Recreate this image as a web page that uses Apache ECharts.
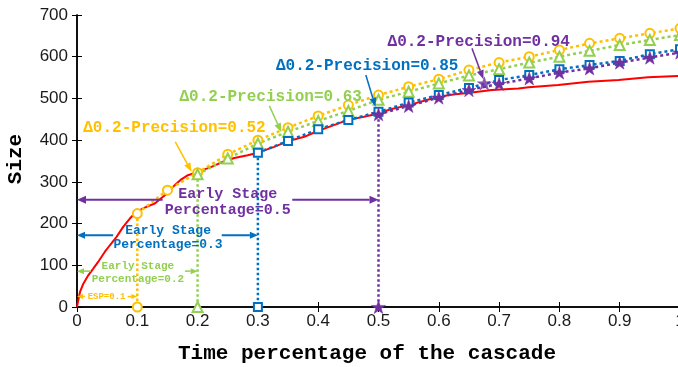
<!DOCTYPE html>
<html><head><meta charset="utf-8">
<script src="https://cdn.jsdelivr.net/npm/echarts@6/dist/echarts.min.js"></script>
<style>html,body{margin:0;padding:0;background:#fff}#c{width:678px;height:367px}</style>
</head><body><div id="c"></div>
<script>
// ---------- data ----------
const tickLabelsX = ['0','0.1','0.2','0.3','0.4','0.5','0.6','0.7','0.8','0.9','1'];
const tickLabelsY = ['0','100','200','300','400','500','600','700'];

const timeSampled = [0.1,0.15,0.2,0.25,0.3,0.35,0.4,0.45,0.5,0.55,0.6,0.65,0.7,0.75,0.8,0.85,0.9,0.95,1.0];
const predESP01 = [224,280,322,366,400,430,458,484,508,528,546,568,586,600,616,632,644,656,668];
const predESP02 = [318,356,392,420,446,470,497,516,536,555,570,586,600,614,628,640,652];
const predESP03 = [370,398,426,448,468,490,508,525,544,556,570,580,590,606,618];
const predESP05 = [462,482,502,520,535,548,562,572,586,598,610];

const actualTime = [0,0.001,0.005,0.0105,0.0187,0.027,0.035,0.046,0.0545,0.0656,0.0766,0.0876,0.0959,0.104,0.115,0.129,0.139,0.151,0.162,0.173,0.184,0.2,0.223,0.245,0.261,0.283,0.3,0.327,0.349,0.377,0.399,0.426,0.448,0.476,0.5,0.52,0.55,0.589,0.617,0.655,0.688,0.732,0.749,0.798,0.848,0.898,0.947,1.0];
const actualSize = [0,8,36,56,76,92,108,132,148,168,192,212,224,232,240,248,260,274,292,306,316,324,336,350,357,364,370,384,397,408,422,436,448,456,464,474,484,500,508,514,520,524,527,532,540,544,551,554];

const espValues = [0.1,0.2,0.3,0.5];
const precisionValues = ['0.52','0.63','0.85','0.94'];
const extraStar = [[0.6755,536]];

// ---------- styles ----------
const C = {orange:'#FFC000', green:'#92D050', blue:'#0070C0', purple:'#7030A0', red:'#FF0000'};
const STAR = 'path://M50,0 L61.8,35.1 L98.9,35.1 L68.9,56.9 L80.3,92 L50,70.4 L19.7,92 L31.1,56.9 L1.1,35.1 L38.2,35.1 Z';
const MONO = "'Liberation Mono','Courier New','DejaVu Sans Mono',monospace";

function pairs(xs, ys){ const off = xs.length - ys.length; return ys.map((y,i)=>[xs[i+off], y]); }

const seriesDefs = [
  {name:'ESP0.1', ys:predESP01, color:C.orange, symbol:'emptyCircle', size:9, bw:2},
  {name:'ESP0.2', ys:predESP02, color:C.green, symbol:'emptyTriangle', size:10, bw:2},
  {name:'ESP0.3', ys:predESP03, color:C.blue, symbol:'emptyRect', size:8, bw:2},
  {name:'ESP0.5', ys:predESP05, color:C.purple, symbol:STAR, size:14, bw:0.5}
];

const series = [];
// drop lines
seriesDefs.forEach((d,i)=>{
  const xv = espValues[i];
  const yv = d.ys[0];
  series.push({
    type:'line', z:2, clip:false, silent:true, animation:false,
    data:[{value:[xv,yv], symbol:'none'},{value:[xv,0]}],
    symbol:d.symbol, symbolSize:d.size, symbolKeepAspect:true, showSymbol:true,
    itemStyle:{color:d.color, borderColor:d.color, borderWidth:d.bw},
    lineStyle:{color:d.color, width:2.5, type:[2.5,2.5]}
  });
});
// actual
series.push({type:'line', z:3, name:'actual', data:actualTime.map((t,i)=>[t,actualSize[i]]),
  symbol:'none', lineStyle:{color:C.red, width:2}, animation:false});
// predictions
seriesDefs.forEach((d)=>{
  series.push({
    type:'line', z:4, name:d.name, clip:false, animation:false,
    data:pairs(timeSampled, d.ys),
    symbol:d.symbol, symbolSize:d.size, symbolKeepAspect:true, showSymbol:true,
    itemStyle:{color:d.color, borderColor:d.color, borderWidth:d.bw},
    lineStyle:{color:d.color, width:2.5, type:[3,3]}
  });
});
series.push({type:'scatter', z:5, data:extraStar, symbol:STAR, symbolSize:14, symbolKeepAspect:true,
  itemStyle:{color:C.purple, borderColor:C.purple, borderWidth:0.5}, animation:false});

const axisLine = {show:true, lineStyle:{color:'#000', width:1.5}};
const tick = {show:true, inside:true, length:5, lineStyle:{color:'#000', width:1}};
const labelFont = {fontFamily:"'Liberation Sans',Arial,sans-serif", fontSize:17, color:'#1a1a1a'};

const chart = echarts.init(document.getElementById('c'), null, {renderer:'canvas'});
chart.setOption({
  animation:false,
  backgroundColor:'#fff',
  grid:{left:77, top:15, width:603, height:292, containLabel:false, outerBoundsMode:'none'},
  xAxis:[
    {type:'value', min:0, max:1, interval:0.1, position:'bottom', axisLine, axisTick:tick, splitLine:{show:false},
     axisLabel:Object.assign({margin:6, formatter:(v)=>tickLabelsX[Math.round(v*10)]}, labelFont)},
    {type:'value', min:0, max:1, interval:0.1, position:'top', axisLine, axisTick:tick, splitLine:{show:false}, axisLabel:{show:false}}
  ],
  yAxis:[
    {type:'value', min:0, max:700, interval:100, position:'left', axisLine, axisTick:tick, splitLine:{show:false},
     axisLabel:Object.assign({margin:9, formatter:(v)=>tickLabelsY[Math.round(v/100)]}, labelFont)},
    {type:'value', min:0, max:700, interval:100, position:'right', axisLine, axisTick:tick, splitLine:{show:false}, axisLabel:{show:false}}
  ],
  series
});

// ---------- annotations (data coordinates -> pixels) ----------
const P = (p)=>chart.convertToPixel({gridIndex:0}, p);

function arrow(from, to, color, width, hl, hw){
  const a = P(from), b = P(to);
  const dx = b[0]-a[0], dy = b[1]-a[1], L = Math.hypot(dx,dy);
  const ux = dx/L, uy = dy/L;
  const bx = b[0]-ux*hl, by = b[1]-uy*hl;
  return [
    {type:'line', silent:true, z:10, shape:{x1:a[0], y1:a[1], x2:bx, y2:by}, style:{stroke:color, lineWidth:width}},
    {type:'polygon', silent:true, z:10, shape:{points:[[b[0],b[1]],[bx-uy*hw/2, by+ux*hw/2],[bx+uy*hw/2, by-ux*hw/2]]}, style:{fill:color}}
  ];
}
function text(at, str, color, size, align, lh){
  const p = P(at);
  return {type:'text', silent:true, z:11, x:p[0], y:p[1],
    style:{text:str, fill:color, font:'bold '+size+'px '+MONO, textAlign:align||'left', textVerticalAlign:'middle', lineHeight:lh||size}};
}

const precisionNotes = [
  {color:C.orange, at:[0.0104,429], from:[0.163,396], to:[0.19,324]},
  {color:C.green,  at:[0.170,503], from:[0.319,482], to:[0.339,419]},
  {color:C.blue,   at:[0.330,578], from:[0.479,556], to:[0.495,480]},
  {color:C.purple, at:[0.515,636], from:[0.655,620], to:[0.674,546]}
];
const stageNotes = [
  {color:C.orange, y:25,  tx:0.049, left:0.013, right:0.084, label:'ESP=0.1', size:9, lw:1.5, hl:6, hw:5, lh:10},
  {color:C.green,  y:86,  tx:0.101, left:0.023, right:0.179, label:'Early Stage\nPercentage=0.2', size:11, lw:1.5, hl:7, hw:6, lh:13},
  {color:C.blue,   y:172, tx:0.151, left:0.060, right:0.240, label:'Early Stage\nPercentage=0.3', size:13, lw:2, hl:8, hw:7, lh:14},
  {color:C.purple, y:257, tx:0.250, left:0.142, right:0.357, label:'Early Stage\nPercentage=0.5', size:15, lw:2, hl:9, hw:8, lh:16}
];

let g = [];
precisionNotes.forEach((n,i)=>{
  g.push(text(n.at, 'Δ0.2-Precision='+precisionValues[i], n.color, 16, 'left'));
  g = g.concat(arrow(n.from, n.to, n.color, 1.5, 9, 7));
});
stageNotes.forEach((n,i)=>{
  const textY = n.label.indexOf('\n')>=0 ? n.y - 5 : n.y;
  g.push(text([n.tx, textY], n.label, n.color, n.size, 'center', n.lh));
  g = g.concat(arrow([n.left, n.y], [0, n.y], n.color, n.lw, n.hl, n.hw));
  g = g.concat(arrow([n.right, n.y], [espValues[i], n.y], n.color, n.lw, n.hl, n.hw));
});
g.push({type:'text', silent:true, x:367, y:354, style:{text:'Time percentage of the cascade', fill:'#000', font:'bold 21px '+MONO, textAlign:'center', textVerticalAlign:'middle'}});
g.push({type:'text', silent:true, x:16, y:159, rotation:Math.PI/2, style:{text:'Size', fill:'#000', font:'bold 21px '+MONO, textAlign:'center', textVerticalAlign:'middle'}});
chart.setOption({graphic:g});
</script>
</body></html>
